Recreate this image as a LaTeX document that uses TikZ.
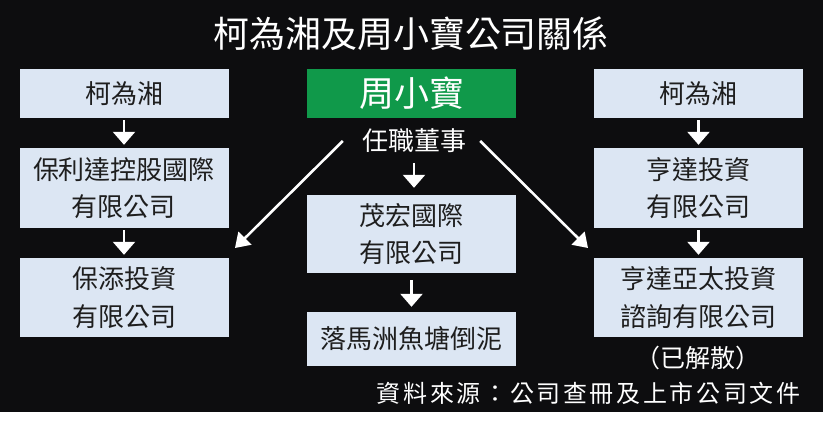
\documentclass[tikz,border=0pt]{standalone}
\usepackage{fontspec}
\setmainfont{Noto Sans CJK TC}
\usetikzlibrary{arrows.meta}
\definecolor{bg}{HTML}{0D0D0F}
\definecolor{boxfill}{HTML}{DCE6F3}
\definecolor{grn}{HTML}{10994A}
\definecolor{txt}{HTML}{1E1E1E}
\tikzset{
  box/.style={fill=boxfill, text=txt, minimum width=209pt, inner sep=0pt, align=center, font=\fontsize{26}{37.5}\selectfont},
  arr/.style={draw=white, line width=2.6pt, -{Triangle[width=22pt,length=13pt]}},
  darr/.style={draw=white, line width=2.6pt, -{Triangle[width=18pt,length=14pt]}},
}
\begin{document}
\begin{tikzpicture}[x=1pt,y=-1pt]
\useasboundingbox (0,0) rectangle (823,427);
\fill[white] (0,0) rectangle (823,427);
\fill[bg] (0,0) rectangle (823,412);
\node[text=white, font=\fontsize{36}{40}\selectfont] (title) at (411,34) {柯為湘及周小寶公司關係};
% left column
\node[box, minimum height=49pt] (l1) at (124,93.5) {柯為湘};
\node[box, minimum height=80pt] (l2) at (124,188) {保利達控股國際\\有限公司};
\node[box, minimum height=79pt] (l3) at (124,297.5) {保添投資\\有限公司};
% middle column
\node[fill=grn, text=white, minimum width=209pt, minimum height=49pt, inner sep=0pt, font=\fontsize{35}{38}\selectfont] (zhou) at (411.5,93.5) {周小寶};
\node[text=white, inner sep=2pt, font=\fontsize{26}{30}\selectfont] (role) at (414,141) {任職董事};
\node[box, minimum height=78pt] (m1) at (411.5,234) {茂宏國際\\有限公司};
\node[box, minimum height=54pt] (m2) at (411.5,339) {落馬洲魚塘倒泥};
% right column
\node[box, minimum height=49pt] (r1) at (698.5,93.5) {柯為湘};
\node[box, minimum height=80pt] (r2) at (698.5,188) {亨達投資\\有限公司};
\node[box, minimum height=79pt] (r3) at (698.5,297.5) {亨達亞太投資\\諮詢有限公司};
\node[text=white, font=\fontsize{25}{28}\selectfont] (diss) at (698,358) {（已解散）};
\node[text=white, anchor=east, font=\fontsize{24}{28}\selectfont\addfontfeature{LetterSpace=11}] (src) at (804,393) {資料來源：公司查冊及上市公司文件};
% arrows
\draw[arr] ([yshift=-2pt]l1.south) -- ([yshift=3pt]l2.north);
\draw[arr] ([yshift=-2pt]l2.south) -- ([yshift=3pt]l3.north);
\draw[arr] ([yshift=-2pt]r1.south) -- ([yshift=3pt]r2.north);
\draw[arr] ([yshift=-2pt]r2.south) -- ([yshift=3pt]r3.north);
\draw[arr] ([xshift=0pt]role.south |- 0,163) -- ([yshift=7pt]m1.north -| role.south);
\draw[arr] ([yshift=-7pt]m1.south) -- ([yshift=5pt]m2.north);
\coordinate (dl) at (235,248);
\coordinate (dr) at (588,248);
\draw[darr] ([xshift=-17pt,yshift=0pt]role.west) -- (dl);
\draw[darr] ([xshift=12pt,yshift=0pt]role.east) -- (dr);
\end{tikzpicture}
\end{document}
